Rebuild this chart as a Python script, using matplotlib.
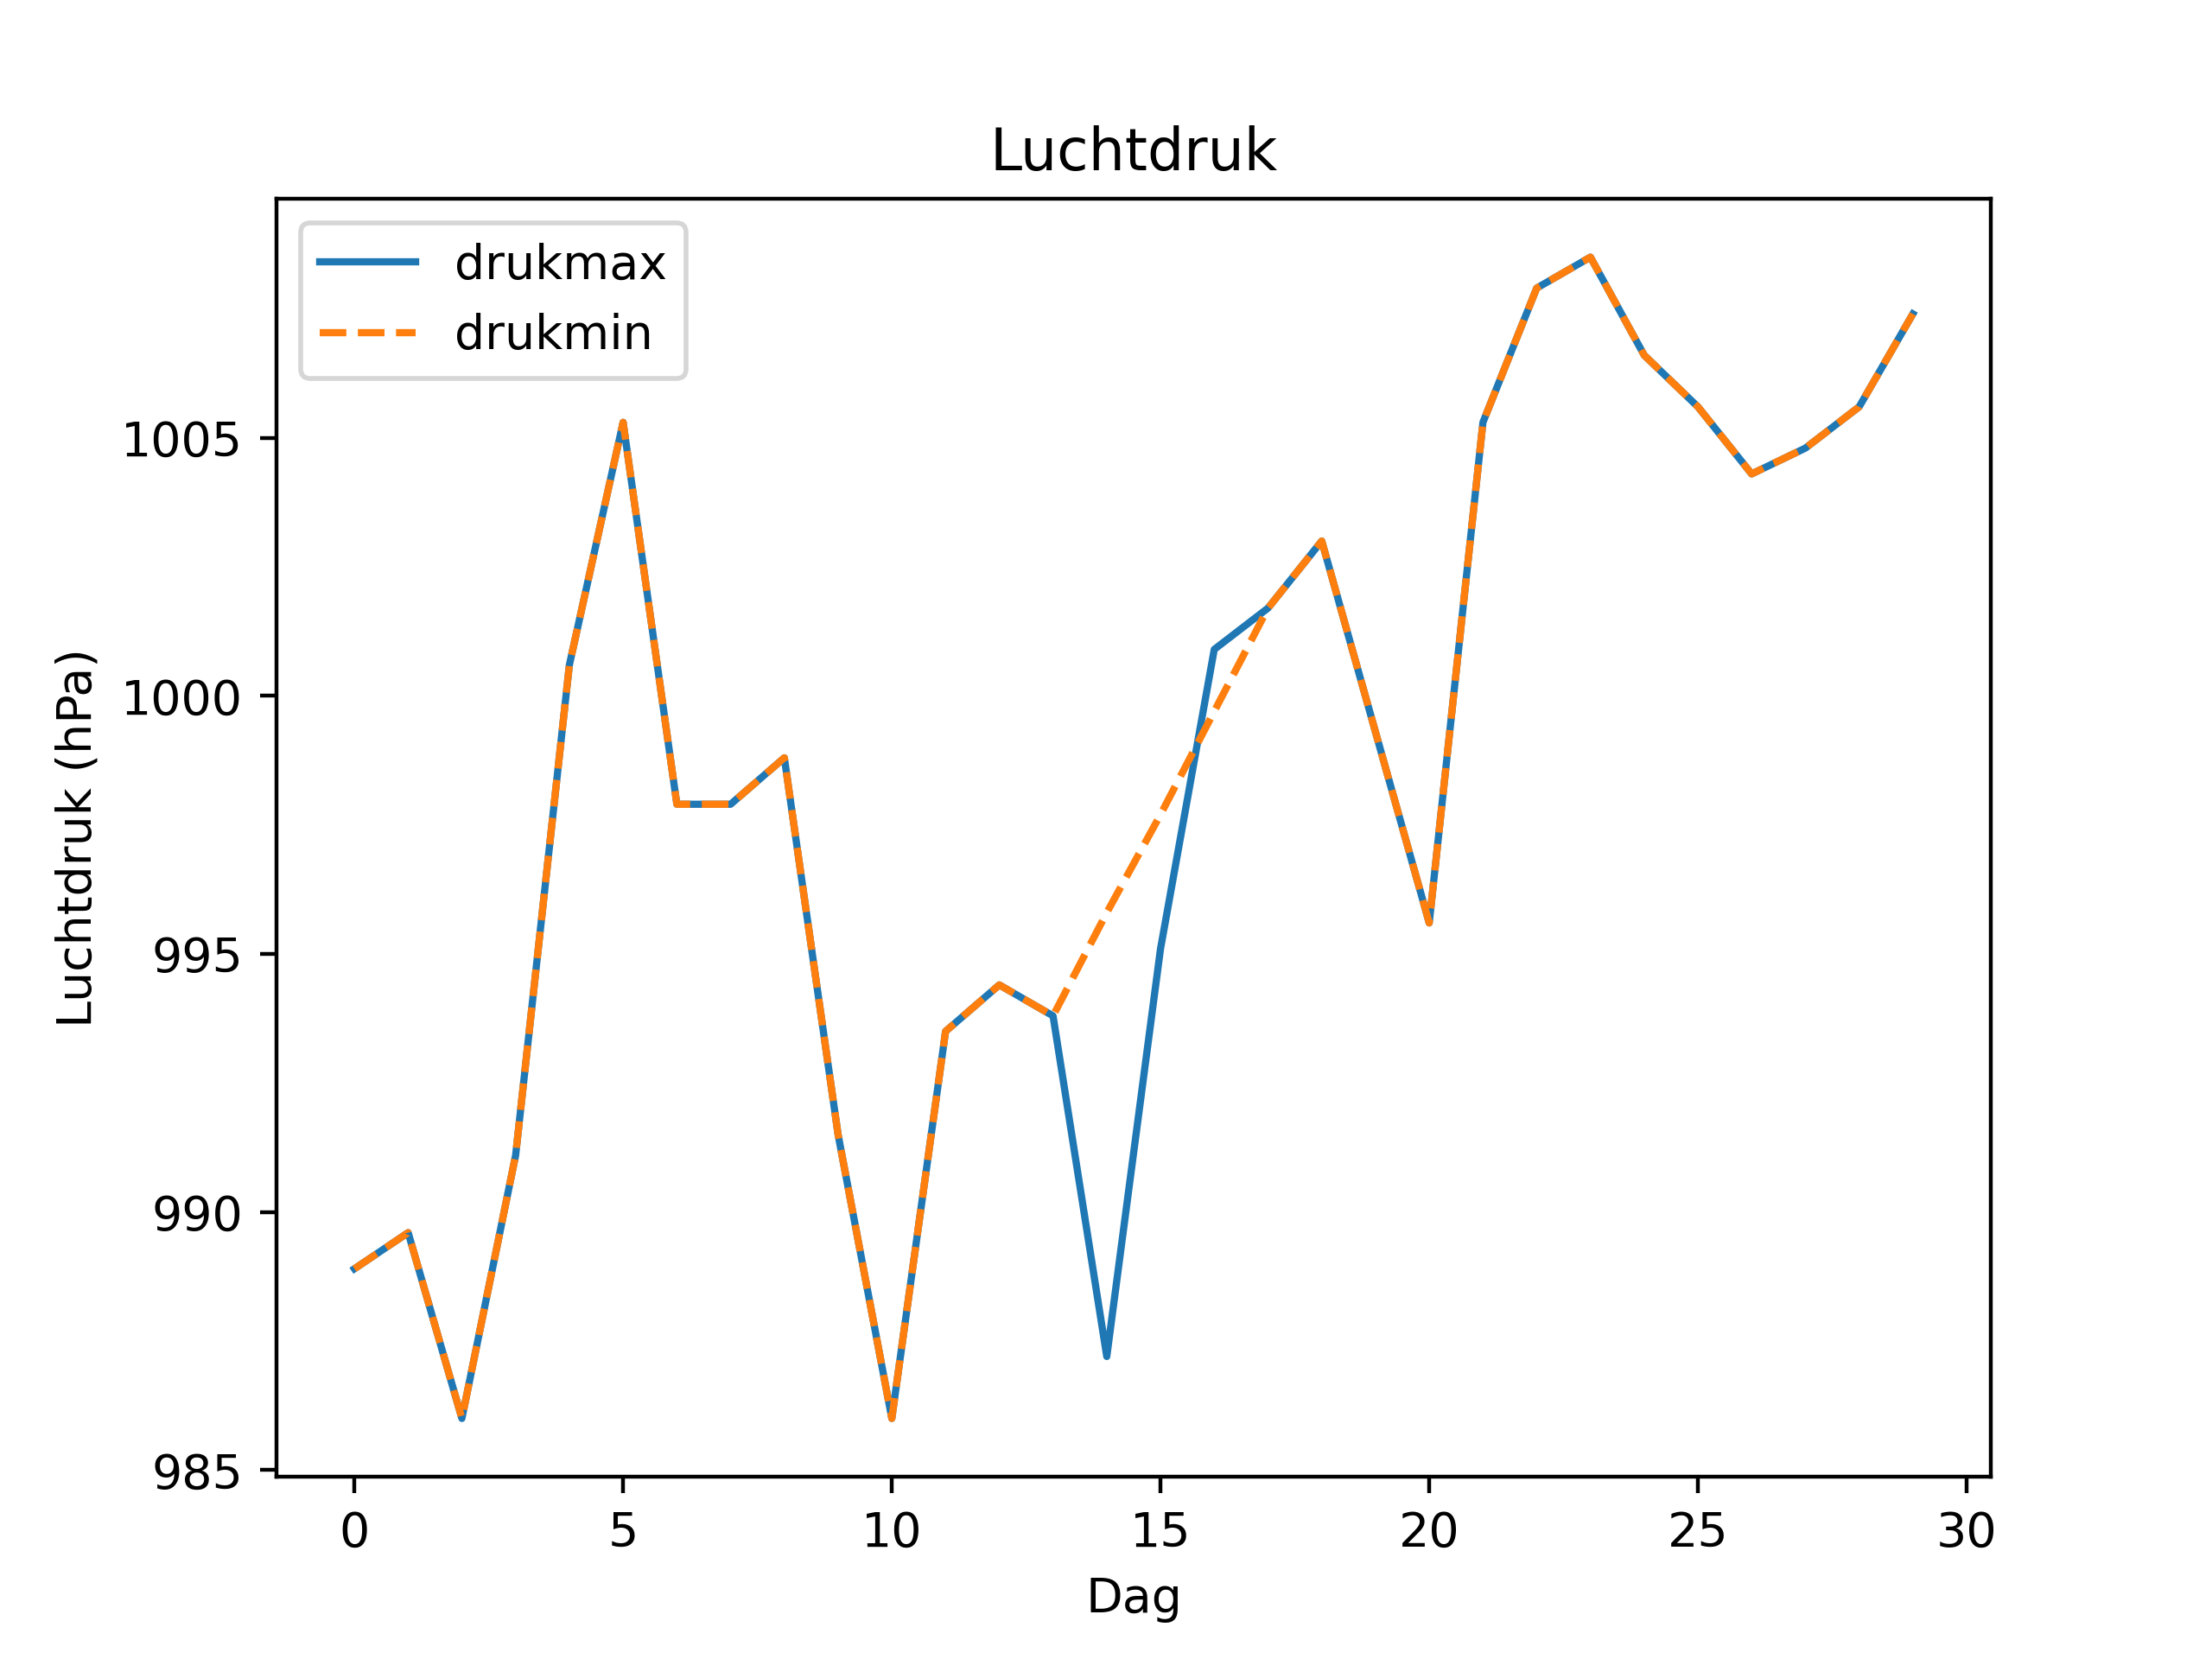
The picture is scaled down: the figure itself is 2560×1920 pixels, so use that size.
import matplotlib
matplotlib.use("Agg")
import matplotlib.pyplot as plt
import numpy as np

dag = list(range(30))
drukmax = [988.9, 989.6, 986.0, 991.1, 1000.6, 1005.3, 997.9, 997.9, 998.8, 991.5,
           986.0, 993.5, 994.4, 993.8, 987.2, 995.1, 1000.9, 1001.7, 1003.0, 999.3,
           995.6, 1005.3, 1007.9, 1008.5, 1006.6, 1005.6, 1004.3, 1004.8, 1005.6, 1007.4]
drukmin = [988.9, 989.6, 986.0, 991.1, 1000.6, 1005.3, 997.9, 997.9, 998.8, 991.5,
           986.0, 993.5, 994.4, 993.8, 995.8, 997.7, 999.7, 1001.7, 1003.0, 999.3,
           995.6, 1005.3, 1007.9, 1008.5, 1006.6, 1005.6, 1004.3, 1004.8, 1005.6, 1007.4]

fig, ax = plt.subplots(figsize=(6.4, 4.8), dpi=400)
ax.plot(dag, drukmax, label="drukmax")
ax.plot(dag, drukmin, "--", label="drukmin")
ax.set_title("Luchtdruk")
ax.set_xlabel("Dag")
ax.set_ylabel("Luchtdruk (hPa)")
ax.legend(loc="upper left")
fig.savefig("out.png", dpi=400)
